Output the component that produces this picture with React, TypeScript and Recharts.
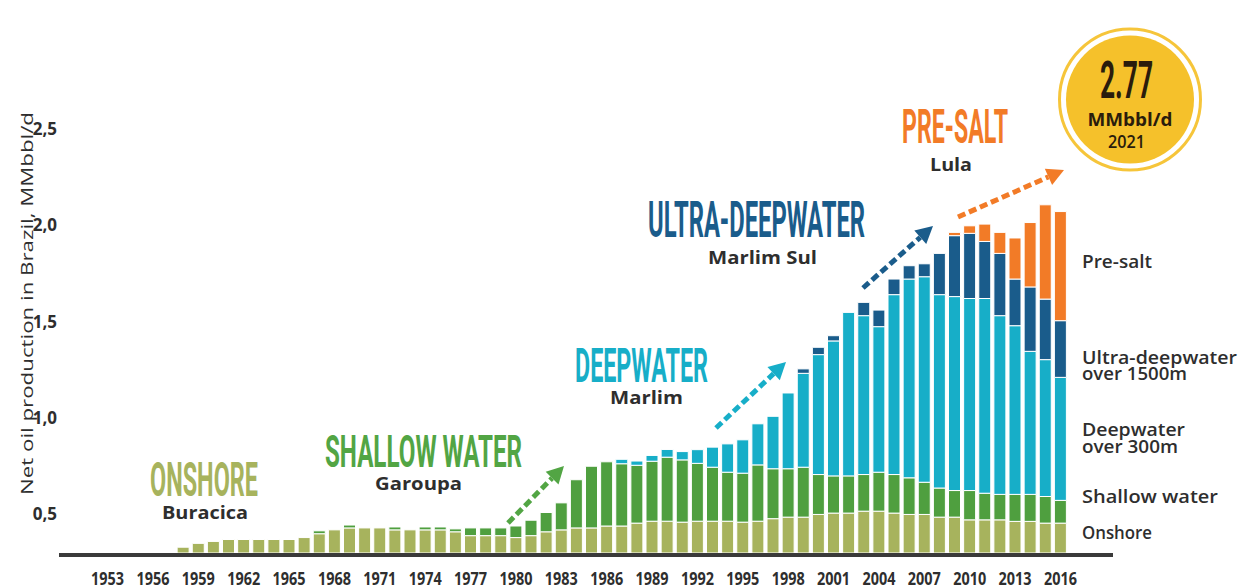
import React from "react"
import { BarChart, Bar, XAxis, YAxis } from "recharts"

const years = [
    "1953", "1954", "1955", "1956", "1957", "1958", "1959", "1960", "1961", "1962",
    "1963", "1964", "1965", "1966", "1967", "1968", "1969", "1970", "1971", "1972",
    "1973", "1974", "1975", "1976", "1977", "1978", "1979", "1980", "1981", "1982",
    "1983", "1984", "1985", "1986", "1987", "1988", "1989", "1990", "1991", "1992",
    "1993", "1994", "1995", "1996", "1997", "1998", "1999", "2000", "2001", "2002",
    "2003", "2004", "2005", "2006", "2007", "2008", "2009", "2010", "2011", "2012",
    "2013", "2014", "2015", "2016",
]

// values (its baseline sits near 0,3)
const onshore = [
    0, 0, 0, 0, 0, 0.33, 0.35, 0.36, 0.37, 0.37,
    0.37, 0.37, 0.37, 0.38, 0.40, 0.42, 0.43, 0.43, 0.43, 0.42,
    0.42, 0.42, 0.42, 0.41, 0.39, 0.39, 0.39, 0.38, 0.39, 0.41,
    0.42, 0.43, 0.43, 0.44, 0.44, 0.455, 0.465, 0.465, 0.46, 0.465,
    0.465, 0.465, 0.46, 0.465, 0.478, 0.486, 0.486, 0.5, 0.507, 0.507,
    0.517, 0.517, 0.507, 0.5, 0.5, 0.486, 0.486, 0.472, 0.472, 0.472,
    0.464, 0.464, 0.455, 0.455,
]
const shallowWater = [
    0, 0, 0, 0, 0, 0, 0, 0, 0, 0,
    0, 0, 0, 0, 0.015, 0, 0.015, 0, 0, 0.015,
    0, 0.015, 0.015, 0.015, 0.04, 0.04, 0.04, 0.06, 0.08, 0.1,
    0.14, 0.25, 0.32, 0.333, 0.323, 0.3, 0.311, 0.332, 0.323, 0.3,
    0.28, 0.254, 0.254, 0.292, 0.259, 0.251, 0.259, 0.207, 0.193, 0.193,
    0.19, 0.202, 0.2, 0.19, 0.167, 0.151, 0.138, 0.152, 0.138, 0.132,
    0.14, 0.14, 0.138, 0.118,
]
const deepwater = [
    0, 0, 0, 0, 0, 0, 0, 0, 0, 0,
    0, 0, 0, 0, 0, 0, 0, 0, 0, 0,
    0, 0, 0, 0, 0, 0, 0, 0, 0, 0,
    0, 0, 0, 0, 0.023, 0.022, 0.03, 0.04, 0.043, 0.071,
    0.104, 0.147, 0.173, 0.213, 0.272, 0.393, 0.487, 0.622, 0.7, 0.848,
    0.824, 0.755, 0.933, 1.031, 1.066, 1.003, 1.006, 0.996, 1.01, 0.927,
    0.875, 0.742, 0.71, 0.638,
]
const ultraDeepwater = [
    0, 0, 0, 0, 0, 0, 0, 0, 0, 0,
    0, 0, 0, 0, 0, 0, 0, 0, 0, 0,
    0, 0, 0, 0, 0, 0, 0, 0, 0, 0,
    0, 0, 0, 0, 0, 0, 0, 0, 0, 0,
    0, 0, 0, 0, 0, 0, 0.023, 0.038, 0.027, 0,
    0.069, 0.086, 0.081, 0.069, 0.067, 0.214, 0.316, 0.338, 0.296, 0.323,
    0.242, 0.334, 0.314, 0.294,
]
const preSalt = [
    0, 0, 0, 0, 0, 0, 0, 0, 0, 0,
    0, 0, 0, 0, 0, 0, 0, 0, 0, 0,
    0, 0, 0, 0, 0, 0, 0, 0, 0, 0,
    0, 0, 0, 0, 0, 0, 0, 0, 0, 0,
    0, 0, 0, 0, 0, 0, 0, 0, 0, 0,
    0, 0, 0, 0, 0, 0, 0.017, 0.039, 0.09, 0.109,
    0.213, 0.334, 0.489, 0.566,
]

const yTicks = [0.5, 1.0, 1.5, 2.0, 2.5]

const COLORS = {
    onshore: "#a7b35d",
    shallow: "#4f9f3f",
    deep: "#17aec8",
    ultra: "#1a5c8b",
    preSalt: "#f27b27",
}

const SERIES = [
    { key: "onshore", color: COLORS.onshore },
    { key: "shallowWater", color: COLORS.shallow },
    { key: "deepwater", color: COLORS.deep },
    { key: "ultraDeepwater", color: COLORS.ultra },
    { key: "preSalt", color: COLORS.preSalt },
]

const data = years.map((year, i) => ({
    year,
    onshore: onshore[i],
    shallowWater: shallowWater[i],
    deepwater: deepwater[i],
    ultraDeepwater: ultraDeepwater[i],
    preSalt: preSalt[i],
}))

const TEXT = "#2e2e2e"
const SANS = "'Open Sans', 'Noto Sans', sans-serif"
const DISPLAY = "Roboto, 'Liberation Sans', sans-serif"

function YearTick(props: any) {
    const { x, y, payload } = props
    return (
        <text
            x={x}
            y={y + 32}
            textAnchor="middle"
            fontFamily={SANS}
            fontWeight={700}
            fontSize={17}
            fill={TEXT}
            textLength={33}
            lengthAdjust="spacingAndGlyphs"
        >
            {payload.value}
        </text>
    )
}

function Arrow({ x1, y1, x2, y2, color }: { x1: number; y1: number; x2: number; y2: number; color: string }) {
    const len = Math.hypot(x2 - x1, y2 - y1)
    const ux = (x2 - x1) / len
    const uy = (y2 - y1) / len
    const bx = x2 - ux * 17
    const by = y2 - uy * 17
    const px = -uy * 9
    const py = ux * 9
    return (
        <g>
            <line x1={x1} y1={y1} x2={bx} y2={by} stroke={color} strokeWidth={5} strokeDasharray="8 4" />
            <polygon points={`${x2},${y2} ${bx + px},${by + py} ${bx - px},${by - py}`} fill={color} />
        </g>
    )
}

function Heading({ x, y, w, size, color, children }: any) {
    return (
        <text x={x} y={y} fontFamily={DISPLAY} fontWeight={700} fontSize={size} fill={color}
            textLength={w} lengthAdjust="spacingAndGlyphs">
            {children}
        </text>
    )
}

function Field({ cx, y, w, children }: any) {
    return (
        <text x={cx} y={y} textAnchor="middle" fontFamily={SANS} fontWeight={700} fontSize={18.5} fill={TEXT}
            textLength={w} lengthAdjust="spacingAndGlyphs">
            {children}
        </text>
    )
}

function SideLabel({ y, w, children }: any) {
    return (
        <text x={1082} y={y} fontFamily={SANS} fontWeight={600} fontSize={18} fill={TEXT}
            textLength={w} lengthAdjust="spacingAndGlyphs">
            {children}
        </text>
    )
}

export default function App() {
    return (
        <div style={{ position: "absolute", left: 0, top: 0, width: 1238, height: 588, background: "#fff" }}>
            <BarChart
                width={1238}
                height={588}
                data={data}
                margin={{ top: 98, right: 170, bottom: 5, left: 0 }}
                barCategoryGap={1.5}
            >
                <XAxis
                    dataKey="year"
                    interval={2}
                    axisLine={false}
                    tickLine={false}
                    tickSize={0}
                    tickMargin={0}
                    height={30}
                    tick={<YearTick />}
                />
                <YAxis
                    domain={[0.3, 2.66]}
                    allowDataOverflow
                    ticks={yTicks}
                    tickFormatter={(v: number) => v.toFixed(1).replace(".", ",")}
                    width={100}
                    axisLine={false}
                    tickLine={false}
                    tickSize={0}
                    tickMargin={43}
                    tick={{ fill: TEXT, fontSize: 17, fontWeight: 700, fontFamily: SANS }}
                />
                {SERIES.map((s) => (
                    <Bar
                        key={s.key}
                        dataKey={s.key}
                        stackId="prod"
                        fill={s.color}
                        stroke="#fff"
                        strokeWidth={1}
                        isAnimationActive={false}
                    />
                ))}
            </BarChart>

            <svg width={1238} height={588} style={{ position: "absolute", left: 0, top: 0, pointerEvents: "none" }}>
                <rect x={59} y={553} width={1054} height={4} fill="#3a3a3a" />

                <text
                    x={26}
                    y={303.5}
                    transform="rotate(-90 26 303.5)"
                    textAnchor="middle"
                    dominantBaseline="central"
                    fontFamily={SANS}
                    fontWeight={500}
                    fontSize={17}
                    fill={TEXT}
                    textLength={383}
                    lengthAdjust="spacingAndGlyphs"
                >
                    Net oil production in Brazil, MMbbl/d
                </text>

                <Heading x={150} y={496} w={108} size={48} color={COLORS.onshore}>ONSHORE</Heading>
                <Field cx={205} y={519} w={86}>Buracica</Field>

                <Heading x={325} y={467} w={197} size={45} color="#52a544">SHALLOW WATER</Heading>
                <Field cx={418.5} y={490} w={87}>Garoupa</Field>

                <Heading x={575} y={382} w={133} size={48} color={COLORS.deep}>DEEPWATER</Heading>
                <Field cx={646.5} y={404} w={73}>Marlim</Field>

                <Heading x={648} y={237} w={217} size={50} color={COLORS.ultra}>ULTRA-DEEPWATER</Heading>
                <Field cx={762.5} y={264} w={109}>Marlim Sul</Field>

                <Heading x={902} y={143} w={106} size={49} color={COLORS.preSalt}>PRE-SALT</Heading>
                <Field cx={951} y={171} w={42}>Lula</Field>

                <Arrow x1={508} y1={523} x2={564} y2={466} color="#52a544" />
                <Arrow x1={716} y1={428} x2={786} y2={362} color={COLORS.deep} />
                <Arrow x1={863} y1={288} x2={933} y2={226} color={COLORS.ultra} />
                <Arrow x1={958} y1={217} x2={1064} y2={170} color={COLORS.preSalt} />

                <circle cx={1130} cy={99.5} r={70.5} fill="#fff" stroke="#f6c53a" strokeWidth={3} />
                <circle cx={1130} cy={99.5} r={64} fill="#f5c12b" />
                <text x={1126.5} y={98} textAnchor="middle" fontFamily={DISPLAY} fontWeight={700} fontSize={52}
                    fill="#2a1c0c" textLength={53} lengthAdjust="spacingAndGlyphs">2.77</text>
                <text x={1130} y={126} textAnchor="middle" fontFamily={SANS} fontWeight={700} fontSize={18}
                    fill="#2a1c0c" textLength={85} lengthAdjust="spacingAndGlyphs">MMbbl/d</text>
                <text x={1126.5} y={148} textAnchor="middle" fontFamily={SANS} fontWeight={600} fontSize={18}
                    fill="#2a1c0c" textLength={37} lengthAdjust="spacingAndGlyphs">2021</text>

                <SideLabel y={268} w={70}>Pre-salt</SideLabel>
                <SideLabel y={364} w={155}>Ultra-deepwater</SideLabel>
                <SideLabel y={379.5} w={105}>over 1500m</SideLabel>
                <SideLabel y={436} w={103}>Deepwater</SideLabel>
                <SideLabel y={453} w={96}>over 300m</SideLabel>
                <SideLabel y={503} w={136}>Shallow water</SideLabel>
                <SideLabel y={539} w={70}>Onshore</SideLabel>
            </svg>
        </div>
    )
}
